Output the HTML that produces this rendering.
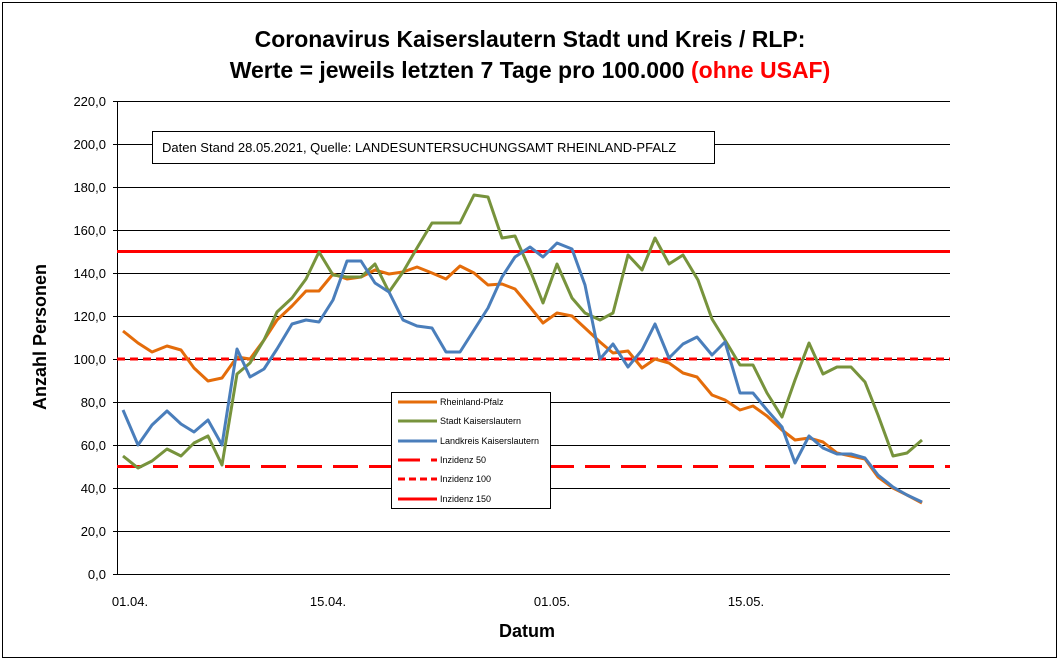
<!DOCTYPE html>
<html><head><meta charset="utf-8"><style>
html,body{margin:0;padding:0;background:#fff;}
svg{display:block;font-family:"Liberation Sans",Arial,sans-serif;}
</style></head><body>
<svg width="1061" height="662" viewBox="0 0 1061 662" xmlns="http://www.w3.org/2000/svg">
<rect x="0" y="0" width="1061" height="662" fill="#fff"/>
<rect x="2.5" y="2.5" width="1054" height="655" fill="none" stroke="#000" stroke-width="1"/>
<text x="530" y="47" text-anchor="middle" font-size="23" font-weight="bold">Coronavirus Kaiserslautern Stadt und Kreis / RLP:</text>
<text x="530" y="78" text-anchor="middle" font-size="23" font-weight="bold">Werte = jeweils letzten 7 Tage pro 100.000 <tspan fill="#ff0000">(ohne USAF)</tspan></text>
<g stroke="#000" stroke-width="1">
<line x1="117" y1="101.5" x2="950" y2="101.5"/>
<line x1="117" y1="144.5" x2="950" y2="144.5"/>
<line x1="117" y1="187.5" x2="950" y2="187.5"/>
<line x1="117" y1="230.5" x2="950" y2="230.5"/>
<line x1="117" y1="273.5" x2="950" y2="273.5"/>
<line x1="117" y1="316.5" x2="950" y2="316.5"/>
<line x1="117" y1="359.5" x2="950" y2="359.5"/>
<line x1="117" y1="402.5" x2="950" y2="402.5"/>
<line x1="117" y1="445.5" x2="950" y2="445.5"/>
<line x1="117" y1="488.5" x2="950" y2="488.5"/>
<line x1="117" y1="531.5" x2="950" y2="531.5"/>
<line x1="117" y1="574.5" x2="950" y2="574.5"/>
<line x1="117.5" y1="101" x2="117.5" y2="575"/>
</g>
<g stroke="#000" stroke-width="1">
<line x1="113" y1="101.5" x2="117" y2="101.5"/><line x1="113" y1="144.5" x2="117" y2="144.5"/><line x1="113" y1="187.5" x2="117" y2="187.5"/><line x1="113" y1="230.5" x2="117" y2="230.5"/><line x1="113" y1="273.5" x2="117" y2="273.5"/><line x1="113" y1="316.5" x2="117" y2="316.5"/><line x1="113" y1="359.5" x2="117" y2="359.5"/><line x1="113" y1="402.5" x2="117" y2="402.5"/><line x1="113" y1="445.5" x2="117" y2="445.5"/><line x1="113" y1="488.5" x2="117" y2="488.5"/><line x1="113" y1="531.5" x2="117" y2="531.5"/><line x1="113" y1="574.5" x2="117" y2="574.5"/>
</g>
<g font-size="13" text-anchor="end">
<text x="106" y="106">220,0</text><text x="106" y="149">200,0</text><text x="106" y="192">180,0</text><text x="106" y="235">160,0</text><text x="106" y="278">140,0</text><text x="106" y="321">120,0</text><text x="106" y="364">100,0</text><text x="106" y="407">80,0</text><text x="106" y="450">60,0</text><text x="106" y="493">40,0</text><text x="106" y="536">20,0</text><text x="106" y="579">0,0</text>
</g>
<g font-size="13" text-anchor="middle">
<text x="130" y="606">01.04.</text><text x="328" y="606">15.04.</text><text x="552" y="606">01.05.</text><text x="746" y="606">15.05.</text>
</g>
<text x="527" y="637" text-anchor="middle" font-size="18" font-weight="bold">Datum</text>
<text transform="translate(46,337) rotate(-90)" text-anchor="middle" font-size="18" font-weight="bold">Anzahl Personen</text>
<g stroke="#ff0000" stroke-width="3" fill="none">
<line x1="117" y1="251.5" x2="950" y2="251.5"/>
<line x1="117" y1="359" x2="950" y2="359" stroke-dasharray="8,5"/>
<line x1="117" y1="466.5" x2="950" y2="466.5" stroke-dasharray="25,11"/>
</g>
<g fill="none" stroke-width="3" stroke-linejoin="round">
<polyline stroke="#e46c0a" points="123,331 138,343 152,352 167,346 181,350 194,368 208,381 222,378 237,357 250,359 264,340 277,320 292,306 306,291 319,291 333,274 347,279 361,277 375,270 389,274 403,272 417,267 432,273 446,279 460,266 474,273 488,285 502,284 515,289 530,307 543,323 557,313 572,316 585,328 600,342 613,353 628,351 642,368 655,359 669,363 683,373 697,377 712,395 725,400 740,410 753,406 767,416 782,430 795,440 809,438 823,442 837,453 851,456 865,459 878,477 893,488 907,495 922,503"/>
<polyline stroke="#77933c" points="123,456 138,468 152,461 167,449 181,456 194,443 208,436 222,465 237,374 250,363 264,340 277,312 292,298 306,279 319,252 333,275 347,277 361,277 375,264 389,292 403,272 417,248 432,223 446,223 460,223 474,195 488,197 502,238 515,236 530,270 543,303 557,264 572,298 585,313 600,320 613,313 628,255 642,270 655,238 669,264 683,255 698,280 712,319 725,340 740,365 753,365 767,393 782,417 795,380 809,343 823,374 837,367 851,367 865,382 878,415 893,456 907,453 922,440"/>
<polyline stroke="#4a7ebb" points="123,410 138,445 152,425 167,411 181,424 194,432 208,420 222,445 237,349 250,377 264,369 277,349 292,324 306,320 319,322 333,300 347,261 361,261 375,283 389,292 403,320 417,326 432,328 446,352 460,352 474,330 488,308 502,277 515,257 530,247 543,257 557,243 572,249 585,285 600,359 613,344 628,367 642,350 655,324 669,358 683,344 697,337 712,355 725,342 740,393 753,393 767,410 782,427 795,463 809,436 823,448 837,454 851,454 865,458 878,475 893,487 907,495 922,502"/>
</g>
<rect x="152.5" y="131.5" width="562" height="32" fill="#fff" stroke="#000"/>
<text x="162" y="152" font-size="13">Daten Stand 28.05.2021, Quelle: LANDESUNTERSUCHUNGSAMT RHEINLAND-PFALZ</text>
<rect x="391.5" y="392.5" width="159" height="116" fill="#fff" stroke="#000"/>
<g stroke-width="3" fill="none">
<line x1="398" y1="402" x2="437" y2="402" stroke="#e46c0a"/>
<line x1="398" y1="421" x2="437" y2="421" stroke="#77933c"/>
<line x1="398" y1="441" x2="437" y2="441" stroke="#4a7ebb"/>
<line x1="398" y1="460" x2="437" y2="460" stroke="#ff0000" stroke-dasharray="22,11"/>
<line x1="398" y1="479" x2="437" y2="479" stroke="#ff0000" stroke-dasharray="7,4"/>
<line x1="398" y1="499" x2="437" y2="499" stroke="#ff0000"/>
</g>
<g font-size="9" fill="#000">
<text x="440" y="405">Rheinland-Pfalz</text>
<text x="440" y="424">Stadt Kaiserslautern</text>
<text x="440" y="444">Landkreis Kaiserslautern</text>
<text x="440" y="463">Inzidenz 50</text>
<text x="440" y="482">Inzidenz 100</text>
<text x="440" y="502">Inzidenz 150</text>
</g>
</svg>
</body></html>
